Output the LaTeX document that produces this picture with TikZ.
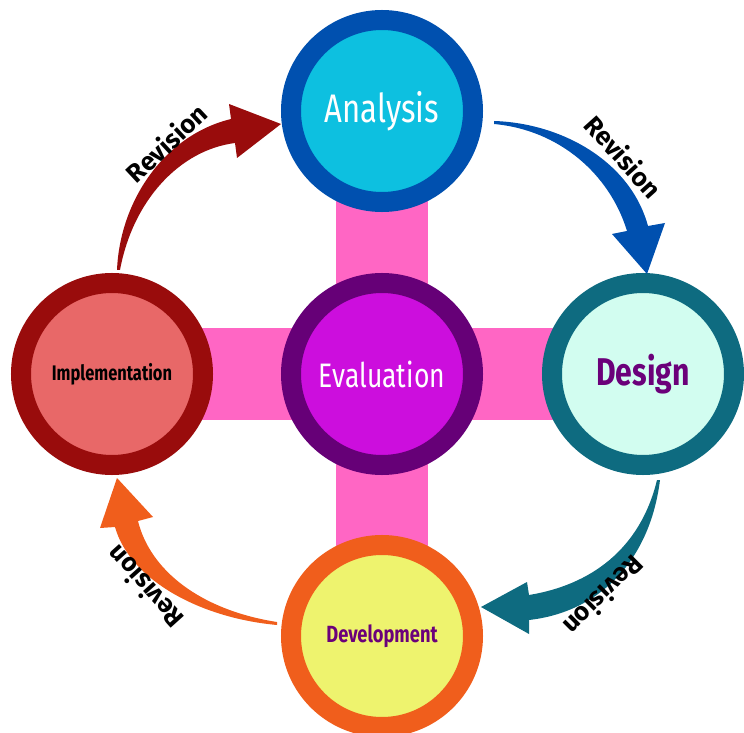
\documentclass[tikz,border=0pt]{standalone}
\usepackage{fontspec}
\setmainfont{Fira Sans}
\usepackage{graphicx}
\usetikzlibrary{backgrounds,calc}

\definecolor{crosspink}{HTML}{FF66C4}
\definecolor{anaring}{HTML}{0050AF}
\definecolor{anafill}{HTML}{0DC0E0}
\definecolor{evaring}{HTML}{660077}
\definecolor{evafill}{HTML}{CC0EDD}
\definecolor{desring}{HTML}{0E6B80}
\definecolor{desfill}{HTML}{D2FDF0}
\definecolor{impring}{HTML}{990C0C}
\definecolor{impfill}{HTML}{E86868}
\definecolor{devring}{HTML}{F05E1C}
\definecolor{devfill}{HTML}{EEF36E}
\definecolor{labelpurple}{HTML}{6B007A}

\newcommand{\narrow}[1]{\scalebox{0.78}[1]{#1}}

\tikzset{
  stage/.style={circle, inner sep=0pt, minimum size=5.46cm, line width=0.6cm},
  crossbar/.style={crosspink, line width=2.76cm},
  revlabel/.style={anchor=base, inner sep=0pt, text=black,
      font=\fontsize{22}{22}\selectfont\bfseries},
}

\begin{document}
\begin{tikzpicture}[x=0.03cm, y=-0.03cm]
\useasboundingbox (0,0) rectangle (744,733);

% the five stages
\node[stage, draw=anaring, fill=anafill, text=white] (ana) at (382,111)
  {\fontsize{34}{34}\selectfont\narrow{Analysis}};
\node[stage, draw=evaring, fill=evafill, text=white] (eva) at (382,374)
  {\fontsize{29}{29}\selectfont\narrow{Evaluation}};
\node[stage, draw=desring, fill=desfill, text=labelpurple] (des) at (643,374)
  {\fontsize{33}{33}\selectfont\bfseries\narrow{Design}};
\node[stage, draw=impring, fill=impfill, text=black] (imp) at (112,374)
  {\fontsize{18}{18}\selectfont\bfseries\narrow{Implementation}};
\node[stage, draw=devring, fill=devfill, text=labelpurple] (dev) at (382,636)
  {\fontsize{20}{20}\selectfont\bfseries\narrow{Development}};
\coordinate (ctr) at (eva.center);

% pink cross behind the circles
\begin{scope}[on background layer]
  \draw[crossbar] (ana.center) -- (dev.center);
  \draw[crossbar] (imp.center) -- (des.center);
\end{scope}

% tapered revision arrows
\fill[impring] (117,270) .. controls (120,200) and (165,135) .. (231,119)
  -- (229,104) -- (281,124) -- (237,158) -- (235,143)
  .. controls (180,150) and (133,200) .. (120,270) -- cycle;
\fill[anaring] (494,121) .. controls (560,123) and (630,160) .. (648,226)
  -- (665,223) -- (647,274) -- (612,234) -- (627,231)
  .. controls (610,175) and (560,130) .. (494,124) -- cycle;
\fill[desring] (660,480) .. controls (650,560) and (600,612) .. (529,620)
  -- (529,634) -- (481,607) -- (527,582) -- (529,595)
  .. controls (590,585) and (640,550) .. (657,480) -- cycle;
\fill[devring] (277,625) .. controls (200,618) and (130,580) .. (115,527)
  -- (100,528) -- (117,478) -- (153,517) -- (138,521)
  .. controls (150,570) and (200,610) .. (277,622) -- cycle;

% labels set tangent to the cycle, letter tops facing outwards
\foreach \a/\r/\n in {-133/306/revA, -42/315/revB, 45/304/revC, 138/309/revD} {
  \node[revlabel, rotate={-\a-90}] (\n) at ($(ctr)+(\a:\r)$) {Revision};
}
\end{tikzpicture}
\end{document}
